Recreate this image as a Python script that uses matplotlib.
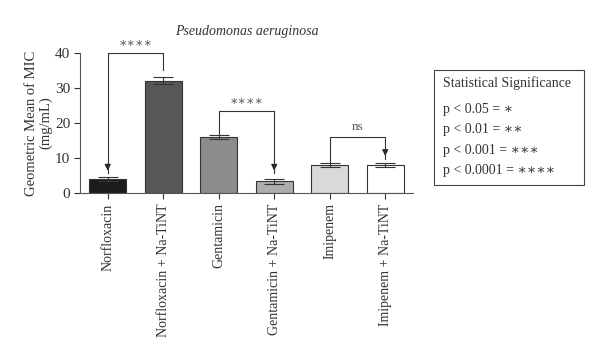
import matplotlib
matplotlib.use("Agg")
import matplotlib.pyplot as plt

plt.rcParams['font.family'] = ['Liberation Serif', 'DejaVu Serif']
plt.rcParams['text.color'] = '#333333'

categories = ["Norfloxacin", "Norfloxacin + Na-TiNT", "Gentamicin",
              "Gentamicin + Na-TiNT", "Imipenem", "Imipenem + Na-TiNT"]
values = [4.0, 32.0, 16.0, 3.3, 8.0, 8.0]
errors = [0.5, 1.0, 0.6, 0.8, 0.7, 0.7]
colors = ["#1c1c1c", "#575757", "#8c8c8c", "#adadad", "#d9d9d9", "#ffffff"]
yticks = [0, 10, 20, 30, 40]
# brackets: (left idx, right idx, bar height, left arm end, right arm end, label, arrow on left?, arrow on right?)
brackets = [
    (0, 1, 40.0, 5.6, 35.0, "∗∗∗∗", True, False),
    (2, 3, 23.4, 16.8, 5.6, "∗∗∗∗", False, True),
    (4, 5, 16.0, 8.8, 9.8, "ns", False, True),
]
legend_title = "Statistical Significance"
legend_lines = ["p < 0.05 = ∗", "p < 0.01 = ∗∗", "p < 0.001 = ∗∗∗", "p < 0.0001 = ∗∗∗∗"]

fig = plt.figure(figsize=(6, 3.59), dpi=100)
ax = fig.add_axes([0.1333, 0.4624, 0.555, 0.39])
x = list(range(len(categories)))
ax.bar(x, values, width=0.67, color=colors, edgecolor="#333333", linewidth=0.8, zorder=2)
ax.errorbar(x, values, yerr=errors, fmt="none", ecolor="#333333", elinewidth=0.8,
            capsize=7.5, capthick=0.8, zorder=3)
ax.set_xlim(-0.5, 5.5)
ax.set_ylim(0, 40)
ax.set_yticks(yticks)
ax.set_xticks(x)
ax.set_xticklabels(categories, rotation=90, fontsize=10)
ax.tick_params(axis='y', labelsize=11, colors="#333333", labelcolor="#333333",
               length=4, width=0.8, pad=3)
ax.tick_params(axis='x', colors="#333333", length=4, width=0.8)
for s in ["top", "right"]:
    ax.spines[s].set_visible(False)
for s in ["left", "bottom"]:
    ax.spines[s].set_color("#555555")
    ax.spines[s].set_linewidth(0.8)
ax.set_ylabel("Geometric Mean of MIC\n(mg/mL)", fontsize=10.5, labelpad=2,
              color="#333333", linespacing=1.1)
ax.set_title("Pseudomonas aeruginosa", fontstyle="italic", fontsize=10, pad=13,
             color="#333333")

for (i, j, h, le, re, lab, al, ar) in brackets:
    ax.plot([i, i, j, j], [le, h, h, re], color="#333333", lw=0.8,
            clip_on=False, zorder=4)
    if al:
        ax.annotate("", xy=(i, le), xytext=(i, le + 2.5),
                    arrowprops=dict(arrowstyle="-|>", color="#222222", lw=0.8,
                                    mutation_scale=9), annotation_clip=False)
    if ar:
        ax.annotate("", xy=(j, re), xytext=(j, re + 2.5),
                    arrowprops=dict(arrowstyle="-|>", color="#222222", lw=0.8,
                                    mutation_scale=9), annotation_clip=False)
    ax.text((i + j) / 2, h + 1.2, lab, ha="center", va="bottom",
            fontsize=9.5 if lab == "ns" else 9, color="#555555", clip_on=False)

# legend box
fig.patches.append(plt.Rectangle((0.723, 0.485), 0.25, 0.32, transform=fig.transFigure,
                                 fill=False, edgecolor="#444444", linewidth=0.8))
fig.text(0.738, 0.768, legend_title, fontsize=10, va="center")
for t, yy in zip(legend_lines, [0.695, 0.638, 0.581, 0.524]):
    fig.text(0.738, yy, t, fontsize=10, va="center")

fig.savefig("out.png", dpi=100)
